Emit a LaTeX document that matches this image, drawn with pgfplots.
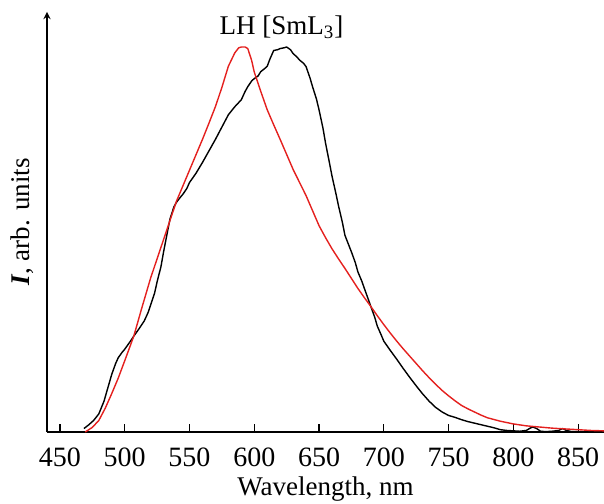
\documentclass[border=0pt]{standalone}
\usepackage{pgfplots}
\pgfplotsset{compat=1.18}
\usepackage{fontspec}
\setmainfont{Liberation Serif}
\definecolor{specred}{RGB}{228,32,30}

\begin{document}
\fontsize{13.5}{16}\selectfont
\begin{tikzpicture}
\begin{axis}[
  scale only axis,
  width=278.5pt, height=210pt,
  xmin=440, xmax=870,
  ymin=0, ymax=1.091,
  axis x line=bottom,
  axis y line=left,
  y axis line style={-stealth, line width=0.6pt},
  x axis line style={-, line width=0.6pt},
  xtick={450,500,...,850},
  ytick=\empty,
  tick align=inside,
  major tick length=4pt,
  tick style={line width=0.6pt, black},
  xticklabel style={yshift=-3pt, font=\fontsize{14}{16}\selectfont},
  xlabel={Wavelength, nm},
  ylabel={\textbf{\textit{I}}, arb. units},
  xlabel style={yshift=4pt},
  ylabel style={yshift=2pt},
  /pgf/number format/assume math mode=true,
  every axis plot/.append style={line width=0.7pt},
]
% black spectrum
\addplot[black] coordinates {
(468.5,0.009) (472,0.018) (476,0.030) (480,0.047) (484,0.080) (487,0.115) (490,0.150)
(493,0.178) (495,0.193) (498,0.207) (500,0.215) (504,0.234) (507,0.249) (511,0.268)
(515,0.288) (518,0.310) (520,0.330) (523,0.360) (525,0.390) (528,0.430) (530,0.468)
(533,0.520) (535,0.554) (538,0.585) (540,0.597) (543,0.610) (545,0.618) (548,0.633)
(550,0.648) (555,0.672) (560,0.700) (565,0.730) (570,0.760) (575,0.792) (580,0.824)
(585,0.845) (590,0.863) (593,0.885) (595,0.897) (598,0.912) (600,0.918) (603,0.925)
(605,0.936) (608,0.944) (610,0.950) (612,0.968) (615,0.991) (618,0.993) (620,0.996)
(623,0.998) (625,1.000) (628,0.993) (630,0.983) (633,0.974) (635,0.966) (638,0.958)
(640,0.949) (643,0.920) (645,0.897) (648,0.865) (650,0.837) (653,0.790) (655,0.751)
(658,0.700) (660,0.665) (663,0.620) (665,0.588) (668,0.545) (670,0.511) (673,0.485)
(675,0.468) (678,0.440) (680,0.416) (683,0.392) (685,0.373) (688,0.345) (690,0.326)
(693,0.298) (695,0.275) (698,0.252) (700,0.236) (705,0.212) (710,0.189) (715,0.165)
(720,0.142) (725,0.120) (730,0.099) (735,0.080) (740,0.064) (745,0.052) (750,0.043)
(755,0.038) (760,0.032) (765,0.027) (770,0.023) (775,0.019) (780,0.015) (785,0.011)
(790,0.006) (795,0.004) (800,0.003) (805,0.002) (810,0.004) (813,0.010) (815,0.013)
(818,0.009) (821,0.002) (825,0.001) (830,0.002) (835,0.004) (838,0.009) (841,0.004)
(845,0.001) (850,0.001)
};
% red spectrum
\addplot[specred] coordinates {
(469.5,0.000) (475,0.012) (480,0.030) (485,0.062) (490,0.100) (495,0.140) (500,0.185)
(507,0.249) (513,0.320) (520,0.400) (525,0.450) (530,0.500) (535,0.550) (540,0.600)
(545,0.640) (550,0.680) (555,0.720) (560,0.760) (565,0.802) (570,0.845) (575,0.895)
(580,0.950) (585,0.985) (588,0.998) (590,1.000) (593,1.000) (595,0.996) (598,0.965)
(600,0.935) (605,0.885) (610,0.837) (615,0.798) (620,0.760) (625,0.721) (630,0.682)
(635,0.648) (640,0.614) (645,0.575) (650,0.536) (655,0.505) (660,0.476) (665,0.450)
(670,0.425) (675,0.399) (680,0.373) (685,0.349) (690,0.326) (695,0.302) (700,0.279)
(705,0.257) (710,0.236) (715,0.216) (720,0.197) (725,0.178) (730,0.159) (735,0.141)
(740,0.124) (745,0.108) (750,0.094) (755,0.081) (760,0.069) (765,0.060) (770,0.052)
(775,0.044) (780,0.037) (790,0.028) (800,0.021) (810,0.016) (820,0.013) (830,0.010)
(840,0.008) (850,0.006) (860,0.004) (870,0.003)
};
\node at (axis cs:621,1.052) {LH [SmL\textsubscript{3}]};
\end{axis}
\pgfresetboundingbox
\path (-23.5pt,-35.5pt) rectangle (278.5pt,216pt);
\end{tikzpicture}
\end{document}
